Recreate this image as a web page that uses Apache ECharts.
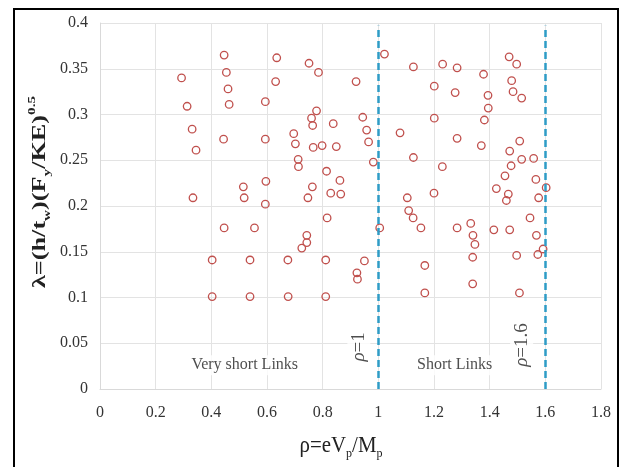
<!DOCTYPE html>
<html>
<head>
<meta charset="utf-8">
<script src="https://cdn.jsdelivr.net/npm/echarts@6/dist/echarts.min.js"></script>
<style>html,body{margin:0;padding:0;background:#fff;}#c{width:619px;height:467px;}</style>
</head>
<body>
<div id="c"></div>
<script>
// Data
const rho = [0.293,0.313,0.331,0.345,0.334,0.446,0.454,0.460,0.464,0.444,0.446,0.403,0.403,0.515,0.518,0.555,0.539,0.539,0.635,0.631,0.594,0.594,0.596,0.594,0.675,0.676,0.696,0.702,0.712,0.713,0.725,0.743,0.743,0.751,0.785,0.760,0.764,0.778,0.766,0.798,0.763,0.747,0.814,0.816,0.811,0.811,0.838,0.849,0.829,0.862,0.865,0.920,0.944,0.958,0.965,0.982,0.923,0.925,0.950,1.005,1.022,1.078,1.126,1.126,1.104,1.109,1.125,1.153,1.167,1.167,1.231,1.201,1.201,1.230,1.200,1.283,1.276,1.283,1.283,1.378,1.394,1.395,1.381,1.370,1.332,1.340,1.347,1.339,1.339,1.424,1.415,1.470,1.497,1.479,1.484,1.515,1.508,1.472,1.477,1.455,1.467,1.460,1.472,1.515,1.558,1.497,1.507,1.566,1.576,1.545,1.568,1.573,1.592,1.603];
const lambda = [0.340,0.309,0.284,0.261,0.209,0.365,0.346,0.328,0.311,0.273,0.176,0.141,0.101,0.221,0.209,0.176,0.141,0.101,0.362,0.336,0.314,0.273,0.227,0.202,0.141,0.101,0.279,0.268,0.251,0.243,0.154,0.168,0.160,0.356,0.346,0.296,0.288,0.304,0.264,0.266,0.221,0.209,0.238,0.187,0.141,0.101,0.290,0.265,0.214,0.228,0.213,0.336,0.297,0.283,0.270,0.248,0.127,0.120,0.140,0.176,0.366,0.280,0.352,0.253,0.209,0.195,0.187,0.176,0.135,0.105,0.355,0.331,0.296,0.243,0.214,0.351,0.324,0.274,0.176,0.344,0.321,0.307,0.294,0.266,0.181,0.168,0.158,0.144,0.115,0.219,0.174,0.363,0.355,0.337,0.325,0.318,0.271,0.260,0.244,0.233,0.213,0.206,0.174,0.251,0.252,0.146,0.105,0.229,0.209,0.187,0.168,0.147,0.153,0.220];
const limits = [1, 1.6];
const limitTop = 0.397;
const notes = [
  {x: 0.52, y: 0.026, text: 'Very short Links', rotate: 0, size: 16},
  {x: 1.274, y: 0.026, text: 'Short Links', rotate: 0, size: 16},
  {x: 0.93, y: 0.046, text: '{i|ρ}=1', rotate: 90, size: 19},
  {x: 1.515, y: 0.048, text: '{i|ρ}=1.6', rotate: 90, size: 19}
];
const xTitle = '{n|ρ=eV}{s|p}{n|/M}{s|p}';
const yTitle = '{n|λ=(h/t}{s|w}{n|)(F}{s|y}{n|/KE)}{p|0.5}';

const serif = 'Liberation Serif';
const chart = echarts.init(document.getElementById('c'));
chart.setOption({
  animation: false,
  backgroundColor: '#fff',
  graphic: [{
    type: 'rect', shape: {x: 14, y: 9, width: 604, height: 480},
    style: {fill: 'none', stroke: '#000', lineWidth: 2}, silent: true
  }, {
    type: 'text', x: 40, y: 192, rotation: Math.PI / 2, scaleX: 1.38, silent: true,
    style: {
      text: yTitle, align: 'center', verticalAlign: 'middle',
      rich: {
        n: {fontFamily: serif, fontSize: 19, fontWeight: 'bold', fill: '#222', lineHeight: 26},
        s: {fontFamily: serif, fontSize: 11, fontWeight: 'bold', fill: '#222', lineHeight: 26, verticalAlign: 'bottom', padding: [10,0,0,0]},
        p: {fontFamily: serif, fontSize: 11, fontWeight: 'bold', fill: '#222', lineHeight: 26, verticalAlign: 'top', padding: [0,0,10,0]}
      }
    }
  }, {
    type: 'text', x: 341, y: 446, scaleX: 1.1, scaleY: 1.2, silent: true,
    style: {
      text: xTitle, align: 'center', verticalAlign: 'middle',
      rich: {
        n: {fontFamily: serif, fontSize: 19, fill: '#222', lineHeight: 24},
        s: {fontFamily: serif, fontSize: 11, fill: '#222', lineHeight: 24, verticalAlign: 'bottom', padding: [9,0,0,0]}
      }
    }
  }],
  grid: {left: 100, right: 18, top: 23, bottom: 78},
  xAxis: {
    type: 'value', min: 0, max: 1.8, interval: 0.2,
    axisLine: {show: true, lineStyle: {color: '#d9d9d9'}},
    axisTick: {show: false},
    splitLine: {show: true, lineStyle: {color: '#e3e3e3'}},
    axisLabel: {fontFamily: serif, fontSize: 16, color: '#333', margin: 16}
  },
  yAxis: {
    type: 'value', min: 0, max: 0.4, interval: 0.05,
    axisLine: {show: true, lineStyle: {color: '#d9d9d9'}},
    axisTick: {show: false},
    splitLine: {show: true, lineStyle: {color: '#e3e3e3'}},
    axisLabel: {fontFamily: serif, fontSize: 16, color: '#333', margin: 12}
  },
  series: [{
    type: 'scatter',
    data: rho.map((r, i) => [r, lambda[i]]),
    symbol: 'circle', symbolSize: 7.5,
    itemStyle: {color: 'rgba(255,255,255,0)', borderColor: '#c0504d', borderWidth: 1.3, opacity: 1},
    markLine: {
      silent: true, symbol: ['none', 'none'],
      lineStyle: {color: '#2e9cc6', type: [7, 4], width: 2.5},
      label: {show: false},
      data: limits.map(v => [{coord: [v, 0]}, {coord: [v, limitTop]}])
    },
    z: 3
  }, {
    type: 'scatter',
    data: notes.map(n => ({
      value: [n.x, n.y],
      label: {fontSize: n.size, rich: {i: {fontFamily: serif, fontSize: n.size, fontStyle: 'italic', color: '#222'}}}
    })),
    symbolSize: 0,
    z: 4,
    label: {
      show: true, position: 'inside',
      formatter: p => notes[p.dataIndex].text,
      fontFamily: serif, fontSize: 16, color: '#222',
      backgroundColor: '#fff', padding: [2, 3]
    },
    labelLayout: p => ({rotate: notes[p.dataIndex].rotate})
  }]
});
</script>
</body>
</html>
